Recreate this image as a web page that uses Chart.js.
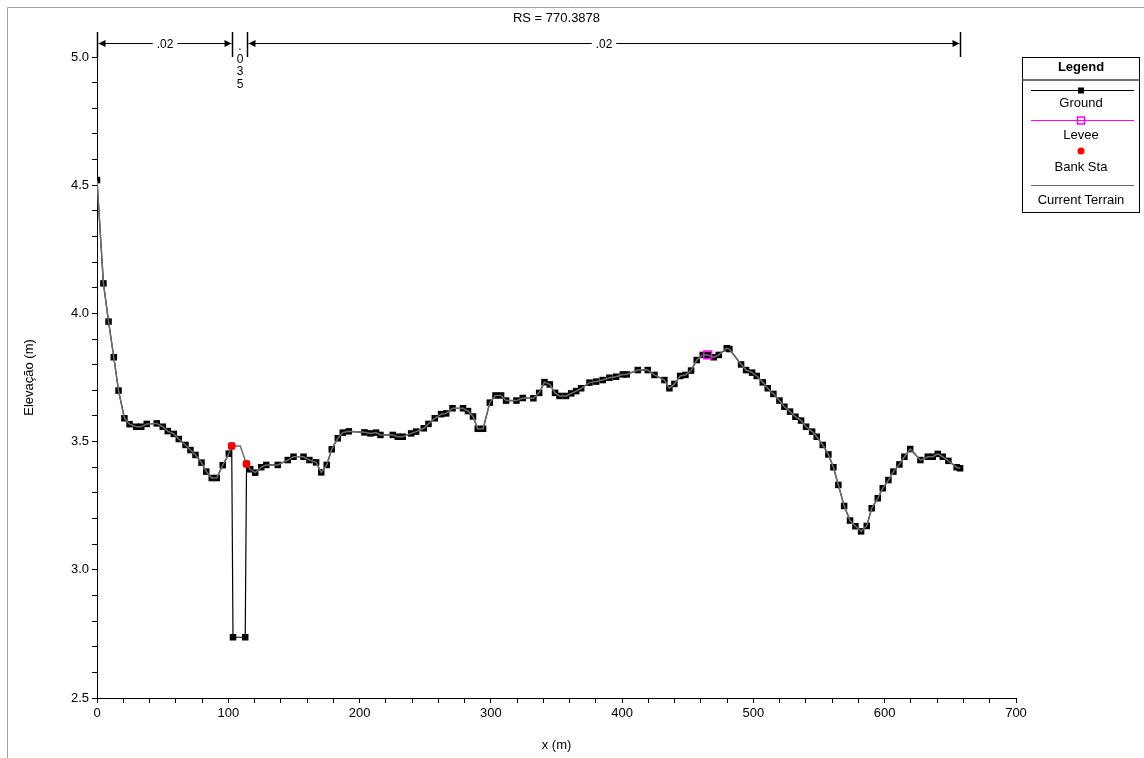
<!DOCTYPE html>
<html>
<head>
<meta charset="utf-8">
<title>RS = 770.3878</title>
<script src="https://cdn.jsdelivr.net/npm/chart.js@4.4.1/dist/chart.umd.min.js"></script>
<style>
    html, body { margin: 0; padding: 0; background: #fff; }
    #wrap { position: relative; width: 1144px; height: 758px; }
</style>
</head>
<body>
<div id="wrap"><canvas id="xs-chart" width="1144" height="758"></canvas></div>
<script>
/**
 * Cross section plot (RS = 770.3878)
 */

const FONT = '"Liberation Sans", Arial, sans-serif';

const chartTitle = 'RS = 770.3878';
const xTitle = 'x (m)';
const yTitle = 'Elevação (m)';

// Ground: station (m) / elevation (m)
const groundX = [
    0, 4.9, 8.8, 12.8, 16.4, 20.9, 24.8, 29.9, 33.7, 37.9,
    45.5, 50.1, 53.9, 58.5, 62.3, 67.4, 71.2, 75.0, 79.6, 83.2,
    87.4, 91.2, 95.8, 100.4, 102.6, 103.6, 112.9, 113.9, 116.7, 120.5,
    125.1, 128.9, 137.7, 145.3, 149.7, 157.3, 161.8, 166.9, 170.8, 175.0,
    178.8, 183.4, 187.2, 191.8, 203.7, 208.3, 212.6, 215.9, 225.3, 229.1,
    232.9, 239.3, 243.1, 248.9, 252.5, 257.3, 262.1, 266.0, 270.8, 278.8,
    282.6, 286.4, 290.0, 294.1, 299.2, 303.5, 307.8, 311.6, 319.5, 324.3,
    332.4, 336.8, 340.8, 344.9, 348.9, 352.3, 357.3, 361.2, 365.0, 368.8,
    375.1, 380.2, 385.2, 390.3, 395.4, 400.5, 403.5, 411.9, 419.5, 424.6,
    432.2, 436.0, 439.8, 444.2, 448.2, 452.5, 456.8, 461.4, 465.2, 469.8,
    473.6, 479.7, 481.7, 490.6, 494.4, 499.0, 502.5, 507.1, 510.9, 515.2,
    519.8, 523.6, 527.9, 532.0, 536.3, 540.1, 544.7, 548.2, 552.8, 557.1,
    560.9, 564.7, 569.1, 573.6, 577.7, 582.0, 586.3, 590.1, 594.7, 598.5,
    602.8, 606.6, 611.2, 615.0, 619.4, 627.2, 632.8, 636.6, 640.4, 644.2,
    648.5, 654.8, 657.4
];
const groundY = [
    4.520, 4.117, 3.968, 3.829, 3.699, 3.591, 3.568, 3.558, 3.558, 3.569,
    3.571, 3.558, 3.541, 3.530, 3.510, 3.487, 3.467, 3.448, 3.418, 3.383,
    3.358, 3.358, 3.408, 3.453, 3.483, 2.737, 2.737, 3.413, 3.392, 3.379,
    3.400, 3.409, 3.409, 3.428, 3.441, 3.441, 3.428, 3.419, 3.380, 3.409,
    3.470, 3.513, 3.535, 3.540, 3.536, 3.532, 3.535, 3.526, 3.526, 3.519,
    3.519, 3.532, 3.539, 3.552, 3.569, 3.591, 3.607, 3.610, 3.630, 3.630,
    3.619, 3.598, 3.550, 3.550, 3.652, 3.680, 3.680, 3.660, 3.660, 3.670,
    3.669, 3.690, 3.732, 3.723, 3.690, 3.678, 3.678, 3.688, 3.697, 3.708,
    3.730, 3.734, 3.740, 3.749, 3.753, 3.762, 3.762, 3.779, 3.779, 3.760,
    3.740, 3.708, 3.725, 3.756, 3.760, 3.777, 3.818, 3.838, 3.838, 3.829,
    3.838, 3.864, 3.861, 3.801, 3.779, 3.769, 3.756, 3.731, 3.708, 3.686,
    3.660, 3.636, 3.617, 3.597, 3.582, 3.558, 3.539, 3.519, 3.487, 3.450,
    3.400, 3.331, 3.249, 3.192, 3.170, 3.150, 3.171, 3.240, 3.279, 3.318,
    3.350, 3.383, 3.411, 3.441, 3.471, 3.428, 3.441, 3.441, 3.452, 3.441,
    3.425, 3.400, 3.396
];

const leveeX = [465.2];
const leveeY = [3.838];

const bankX = [102.6, 113.9];
const bankY = [3.483, 3.413];

// Current terrain spans the channel top between the banks
const bridgeX = [109.1];
const bridgeY = [3.483];

// Manning's n by region (left overbank, channel, right overbank)
const nValues = ['.02', '.035', '.02'];

const xTicks = { min: 0, max: 700, minor: 20, major: 100 };
const yTicks = { min: 2.5, max: 5.0, minor: 0.1, major: 0.5 };

const legendLabels = ['Ground', 'Levee', 'Bank Sta', 'Current Terrain'];

const GRAY = '#6e6e6e';
const MAGENTA = '#ff00ff';
const RED = '#ff0000';

function toPoints(xs, ys) {
    return xs.map((x, i) => ({ x, y: ys[i] }));
}

const groundPts = toPoints(groundX, groundY);
const terrainPts = groundPts
    .filter(p => p.x <= bankX[0] || p.x >= bankX[1])
    .concat(toPoints(bridgeX, bridgeY))
    .sort((a, b) => a.x - b.x);

function arrowHead(ctx, x, y, dir) {
    ctx.beginPath();
    ctx.moveTo(x, y);
    ctx.lineTo(x - dir * 7, y - 3.5);
    ctx.lineTo(x - dir * 7, y + 3.5);
    ctx.closePath();
    ctx.fill();
}

function drawNRegions(chart) {
    const ctx = chart.ctx;
    const xs = chart.scales.x;
    const top = chart.chartArea.top;
    const breaks = [groundX[0], bankX[0], bankX[1], groundX[groundX.length - 1]];
    const px = breaks.map(b => Math.round(xs.getPixelForValue(b)) + 0.5);
    const ay = 43.5;

    ctx.strokeStyle = '#000';
    ctx.fillStyle = '#000';
    ctx.lineWidth = 1.5;
    px.forEach(p => {
        ctx.beginPath();
        ctx.moveTo(p, 32);
        ctx.lineTo(p, top);
        ctx.stroke();
    });

    ctx.font = '12px ' + FONT;
    ctx.textAlign = 'center';
    ctx.textBaseline = 'middle';
    ctx.lineWidth = 1;
    nValues.forEach((label, i) => {
        const a = px[i] + 1, b = px[i + 1] - 1;
        const w = ctx.measureText(label).width;
        const mid = (a + b) / 2;
        if (w + 30 < b - a) {
            ctx.beginPath();
            ctx.moveTo(a, ay);
            ctx.lineTo(mid - w / 2 - 4, ay);
            ctx.moveTo(mid + w / 2 + 4, ay);
            ctx.lineTo(b, ay);
            ctx.stroke();
            arrowHead(ctx, a, ay, -1);
            arrowHead(ctx, b, ay, 1);
            ctx.fillText(label, mid, ay + 1);
        } else {
            // too narrow: stack characters under the arrow line
            label.split('').forEach((c, k) => {
                ctx.fillText(c, mid, 47 + k * 12.5);
            });
        }
    });
}

function drawLegend(ctx) {
    const L = 1022.5, R = 1139.5, T = 57.5, B = 212.5;
    const cx = (L + R) / 2;
    const x0 = 1031, x1 = 1134;
    const lineY = [90.5, 120.5, 151, 185.5];
    const textY = [103, 135, 167, 200];

    ctx.fillStyle = '#fff';
    ctx.fillRect(L, T, R - L, B - T);
    ctx.strokeStyle = '#000';
    ctx.lineWidth = 1;
    ctx.strokeRect(L, T, R - L, B - T);

    ctx.fillStyle = '#000';
    ctx.textAlign = 'center';
    ctx.textBaseline = 'middle';
    ctx.font = 'bold 13px ' + FONT;
    ctx.fillText('Legend', cx, 67);

    ctx.strokeStyle = '#707070';
    ctx.lineWidth = 2;
    ctx.beginPath();
    ctx.moveTo(L, 80);
    ctx.lineTo(R, 80);
    ctx.stroke();

    // Ground
    ctx.strokeStyle = '#000';
    ctx.lineWidth = 1;
    ctx.beginPath();
    ctx.moveTo(x0, lineY[0]);
    ctx.lineTo(x1, lineY[0]);
    ctx.stroke();
    ctx.fillStyle = '#000';
    ctx.fillRect(cx - 3, lineY[0] - 3, 6, 6);

    // Levee
    ctx.strokeStyle = MAGENTA;
    ctx.beginPath();
    ctx.moveTo(x0, lineY[1]);
    ctx.lineTo(x1, lineY[1]);
    ctx.stroke();
    ctx.lineWidth = 1.5;
    ctx.strokeRect(cx - 3.5, lineY[1] - 3.5, 7, 7);

    // Bank Sta
    ctx.fillStyle = RED;
    ctx.beginPath();
    ctx.arc(cx, lineY[2], 3.5, 0, Math.PI * 2);
    ctx.fill();

    // Current Terrain
    ctx.strokeStyle = GRAY;
    ctx.lineWidth = 1;
    ctx.beginPath();
    ctx.moveTo(x0, lineY[3]);
    ctx.lineTo(x1, lineY[3]);
    ctx.stroke();

    ctx.fillStyle = '#000';
    ctx.font = '13px ' + FONT;
    legendLabels.forEach((t, i) => ctx.fillText(t, cx, textY[i]));
}

const decorPlugin = {
    id: 'decor',
    afterDraw(chart) {
        const ctx = chart.ctx;
        ctx.save();

        // outer frame
        ctx.strokeStyle = '#a0a0a0';
        ctx.lineWidth = 1;
        ctx.beginPath();
        ctx.moveTo(7.5, 758);
        ctx.lineTo(7.5, 7.5);
        ctx.lineTo(1144, 7.5);
        ctx.stroke();

        // title
        const area = chart.chartArea;
        ctx.fillStyle = '#000';
        ctx.font = '13px ' + FONT;
        ctx.textAlign = 'center';
        ctx.textBaseline = 'middle';
        ctx.fillText(chartTitle, (area.left + area.right) / 2, 18);

        drawNRegions(chart);
        drawLegend(ctx);
        ctx.restore();
    }
};

new Chart(document.getElementById('xs-chart'), {
    type: 'scatter',
    data: {
        datasets: [
            {
                label: 'Bank Sta',
                data: toPoints(bankX, bankY),
                showLine: false,
                pointStyle: 'circle',
                pointRadius: 4,
                backgroundColor: RED,
                borderColor: RED,
                borderWidth: 0,
                order: 0
            },
            {
                label: 'Levee',
                data: toPoints(leveeX, leveeY),
                showLine: false,
                pointStyle: 'rect',
                pointRadius: 5.5,
                backgroundColor: 'rgba(0,0,0,0)',
                borderColor: MAGENTA,
                borderWidth: 1.5,
                order: 1
            },
            {
                label: 'Current Terrain',
                data: terrainPts,
                showLine: true,
                borderColor: GRAY,
                borderWidth: 1.5,
                pointRadius: 0,
                order: 2
            },
            {
                label: 'Ground',
                data: groundPts,
                showLine: true,
                borderColor: '#000',
                borderWidth: 1.2,
                pointStyle: 'rect',
                pointRadius: 4.6,
                backgroundColor: '#000',
                pointBorderWidth: 0,
                order: 3
            }
        ]
    },
    options: {
        responsive: false,
        animation: false,
        layout: { padding: { top: 57, right: 128, left: 0, bottom: 0 } },
        plugins: {
            legend: { display: false },
            tooltip: { enabled: false }
        },
        scales: {
            x: {
                type: 'linear',
                min: xTicks.min,
                max: xTicks.max,
                border: { color: '#000', width: 1 },
                grid: { drawOnChartArea: false, color: '#000', tickLength: 5 },
                ticks: {
                    stepSize: xTicks.minor,
                    autoSkip: false,
                    maxRotation: 0,
                    color: '#000',
                    font: { family: FONT, size: 13 },
                    callback: v => (Math.round(v) % xTicks.major === 0 ? String(Math.round(v)) : '')
                },
                title: {
                    display: true,
                    text: xTitle,
                    color: '#000',
                    font: { family: FONT, size: 13 },
                    padding: { top: 0, bottom: 5 }
                },
                afterFit: scale => { scale.height = 60; }
            },
            y: {
                type: 'linear',
                min: yTicks.min,
                max: yTicks.max,
                border: { color: '#000', width: 1 },
                grid: { drawOnChartArea: false, color: '#000', tickLength: 5 },
                ticks: {
                    stepSize: yTicks.minor,
                    autoSkip: false,
                    color: '#000',
                    font: { family: FONT, size: 13 },
                    callback: v => (Math.round(v * 10) % Math.round(yTicks.major * 10) === 0 ? v.toFixed(1) : '')
                },
                title: {
                    display: true,
                    text: yTitle,
                    color: '#000',
                    font: { family: FONT, size: 13 },
                    padding: { top: 22, bottom: 0 }
                },
                afterFit: scale => { scale.width = 97; }
            }
        }
    },
    plugins: [decorPlugin]
});
</script>
</body>
</html>
